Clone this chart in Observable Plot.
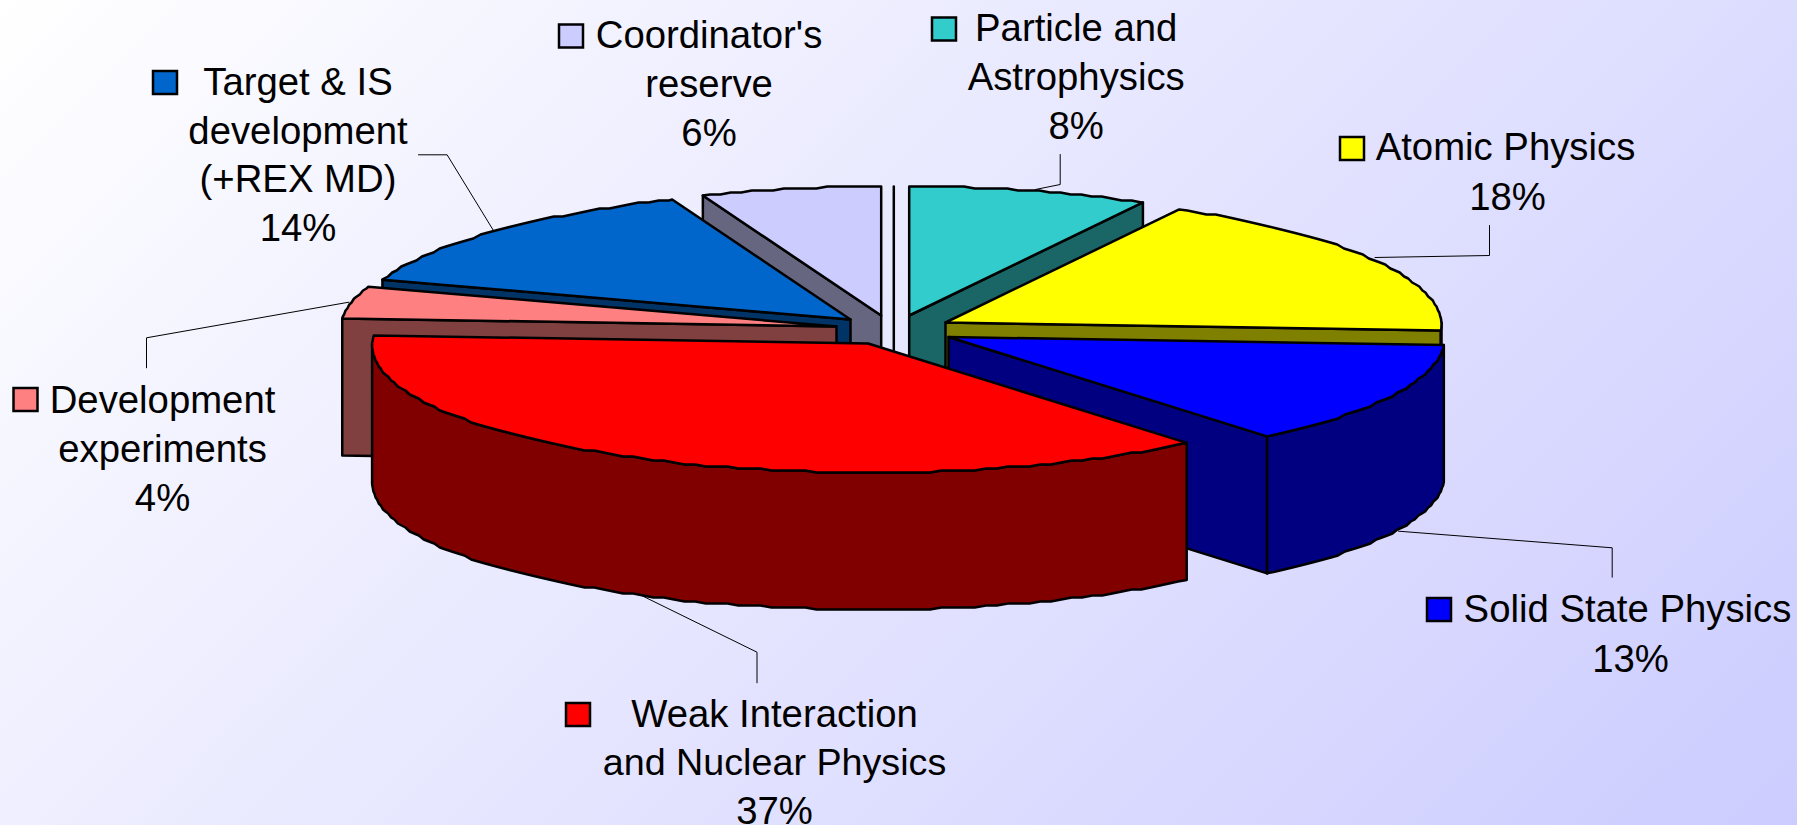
<!DOCTYPE html>
<html>
<head>
<meta charset="utf-8">
<script src="https://cdn.jsdelivr.net/npm/d3@7"></script>
<script src="https://cdn.jsdelivr.net/npm/@observablehq/plot@0.6"></script>
<style>
html,body{margin:0;padding:0;width:1797px;height:825px;overflow:hidden;
background:linear-gradient(135deg,#ffffff 0%,#ccccff 100%);}
</style>
</head>
<body>
<div id="chart"></div>
<script>
// Data, clockwise from 12 o'clock
const categories = ["Particle and Astrophysics","Atomic Physics","Solid State Physics","Weak Interaction and Nuclear Physics","Development experiments","Target & IS development (+REX MD)","Coordinator's reserve"];
const shares = [8,18,13,37,4,14,6];
const faceColors = ["#33CCCC","#FFFF00","#0000FF","#FF0000","#FF8080","#0066CC","#CCCCFF"];
const wallColors = ["#1A6666","#808000","#000080","#800000","#804040","#003366","#666680"];

// Label text
const labelLines = [
  ["Particle and","Astrophysics","8%"],
  ["Atomic Physics","18%"],
  ["Solid State Physics","13%"],
  ["Weak Interaction","and Nuclear Physics","37%"],
  ["Development","experiments","4%"],
  ["Target & IS","development","(+REX MD)","14%"],
  ["Coordinator's","reserve","6%"]
];

// Layout: exploded slice apexes, pie projection
const apexX = [908.7,945,948,867.6,836,850,880.7];
const apexY = [315,322,336.5,343,326,319,315];
const radiusX = 496, radiusY = 129, depth = 137;
const backTaper = 0.025, frontTaper = 0.01;
const drawOrder = [6,0,5,1,4,2,3];
const edgeWall = ["end","end","end",null,"start","start","start"];

// Label layout
const labelX = [1075.7,1505,1627,774,162,297.5,708.5];
const labelBaseY = [40.7,159.3,621.7,726.7,412,94.5,47];
const labelStep = [48.7,50,49.3,48.2,49,48.7,49.3];
const lineOffsets = [[0,0,0],[0,2],[0,3],[0,0,0],[0,0,0],[0,0,0,0],[0,0,0]];
const swatchX = [932,1340,1427,566,13.5,153,559];
const swatchY = [17.5,137,598,703,388,71,24.5];
const swatchW = 24, swatchH = 23;
const leaders = [
  [[1059.7,154],[1059.7,184],[1035,189]],
  [[1489,225],[1489,255],[1374.5,257]],
  [[1611.7,576.7],[1611.7,547.3],[1398,530.7]],
  [[756.5,682.3],[756.5,651.7],[641,595]],
  [[146,367.3],[146,337.3],[348.3,301.7]],
  [[418,154.3],[446.6,154.3],[492.5,229.3]]
];
const separator = [[893.3,186],[893.3,350]];

// Slice angles from the shares
const ends = d3.cumsum(shares).map(v => v / d3.sum(shares) * 360);
const starts = ends.map((_, i) => i ? ends[i - 1] : 0);
const rad = d => d * Math.PI / 180;
const rimPoint = (i, deg) => {
  const c = Math.cos(rad(deg));
  const taper = 1 - (c > 0 ? backTaper : frontTaper) * c;
  return [apexX[i] + radiusX * Math.sin(rad(deg)) * taper, apexY[i] - radiusY * c];
};
// the original rim is a coarse polyline: snap to a device grid
const snap = ([x, y]) => [x, Math.round(y / 2) * 2];
function rim(i, a0, a1) {
  const pts = [rimPoint(i, a0)];
  for (let a = Math.ceil(a0 / 1.3) * 1.3; a < a1; a += 1.3) if (a > a0) pts.push(snap(rimPoint(i, a)));
  pts.push(rimPoint(i, a1));
  return pts;
}
const piece = (pts, fill) => Plot.line(pts, {x: d => d[0], y: d => d[1], curve: "linear-closed", fill, stroke: "black", strokeWidth: 2.5, strokeLinejoin: "round"});

const marks = [];
drawOrder.forEach((i) => {
  const apex = [apexX[i], apexY[i]];
  if (i === 3) marks.push(Plot.line(separator, {x: d => d[0], y: d => d[1], stroke: "black", strokeWidth: 2.5}));
  // flat cut wall
  if (edgeWall[i]) {
    const r = rimPoint(i, edgeWall[i] === "end" ? ends[i] : starts[i]);
    marks.push(piece([apex, r, [r[0], r[1] + depth], [apex[0], apex[1] + depth]], wallColors[i]));
  }
  // outer curved wall (front half of the ellipse)
  const a0 = Math.max(starts[i], 90), a1 = Math.min(ends[i], 270);
  if (a1 > a0) {
    const top = rim(i, a0, a1);
    const bottom = top.map(([x, y]) => [x, y + depth]).reverse();
    marks.push(piece(top.concat(bottom), wallColors[i]));
  }
  // top face
  marks.push(piece([apex, ...rim(i, starts[i], ends[i])], faceColors[i]));
});

leaders.forEach(l => marks.push(Plot.line(l, {x: d => d[0], y: d => d[1], stroke: "black", strokeWidth: 1})));

const swatches = categories.map((c, i) => ({c, x: swatchX[i], y: swatchY[i], fill: faceColors[i]}));
marks.push(Plot.rect(swatches, {x1: d => d.x, x2: d => d.x + swatchW, y1: d => d.y, y2: d => d.y + swatchH, fill: d => d.fill, stroke: "black", strokeWidth: 2.5}));

const textRows = labelLines.flatMap((lines, i) => lines.map((t, j) => ({t, x: labelX[i] + lineOffsets[i][j], y: labelBaseY[i] + j * labelStep[i]})));
const bigRows = textRows.filter(d => d.t !== "and Nuclear Physics");
const tightRows = textRows.filter(d => d.t === "and Nuclear Physics");
marks.push(Plot.text(bigRows, {x: "x", y: "y", text: "t", textAnchor: "middle", lineAnchor: "bottom", fontSize: 38.3, fontFamily: "Liberation Sans", fill: "black"}));
marks.push(Plot.text(tightRows, {x: "x", y: "y", text: "t", textAnchor: "middle", lineAnchor: "bottom", fontSize: 37.7, fontFamily: "Liberation Sans", fill: "black"}));

const chart = Plot.plot({
  width: 1797, height: 825, margin: 0,
  x: {domain: [0, 1797], range: [0, 1797], axis: null},
  y: {domain: [0, 825], range: [0, 825], axis: null},
  color: {type: "identity"},
  style: {background: "transparent"},
  marks
});
document.getElementById("chart").append(chart);
</script>
</body>
</html>
